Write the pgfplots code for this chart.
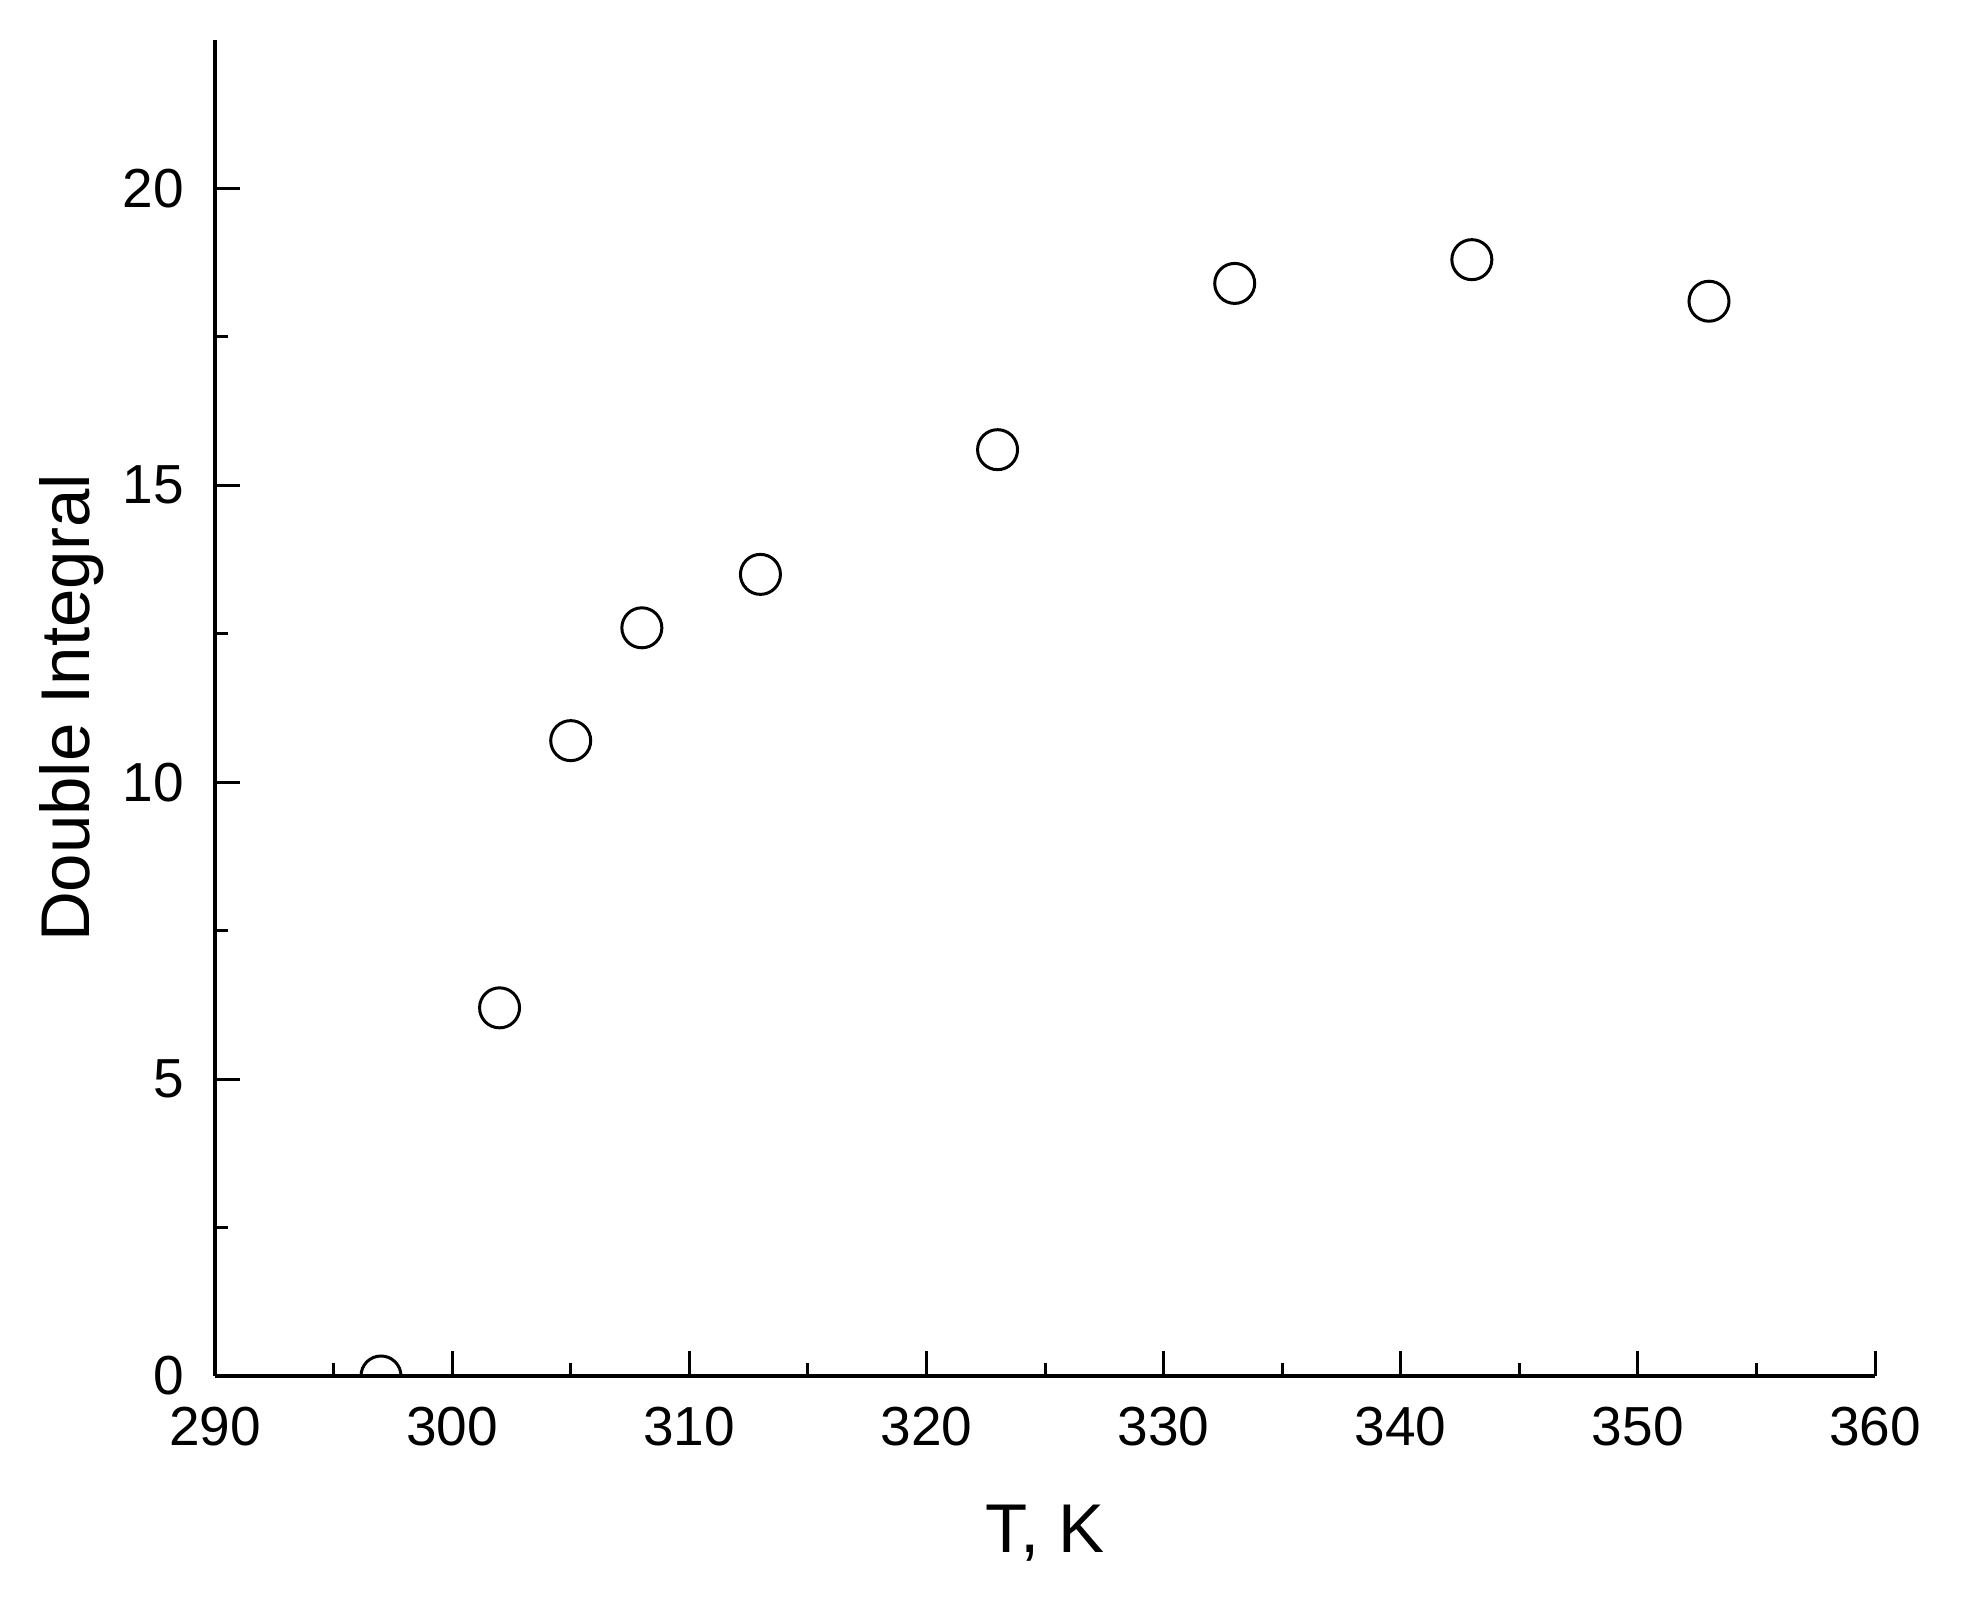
\documentclass[border=0pt]{standalone}
\usepackage{fontspec}
\setmainfont{Liberation Sans}
\usepackage{pgfplots}
\pgfplotsset{compat=1.18}

\begin{document}
\begin{tikzpicture}
    \begin{axis}[
        scale only axis,
        width  = 332pt,
        height = 267.2pt,
        xmin = 290, xmax = 360,
        ymin = 0,   ymax = 22.5,
        xtick = {290,300,...,360},
        ytick = {0,5,...,20},
        minor tick num = 1,
        axis x line* = bottom,
        axis y line* = left,
        axis line style = {-, line width=0.8pt},
        tick align = inside,
        major tick length = 5pt,
        minor tick length = 2.6pt,
        every tick/.style = {black, line width=0.6pt},
        /pgf/number format/assume math mode = true,
        /pgf/number format/1000 sep = {},
        tick label style = {font=\fontsize{11}{13}\selectfont},
        xticklabel style = {yshift=-2.7pt},
        yticklabel style = {xshift=-2.7pt},
        xlabel = {T, K},
        ylabel = {Double Integral},
        every axis x label/.style = {at={(axis description cs:0.5,-0.1175)}, anchor=center,
                                     font=\fontsize{13.8}{16}\selectfont},
        every axis y label/.style = {at={(axis description cs:-0.0861,0.5)}, anchor=center, rotate=90,
                                     font=\fontsize{13.8}{16}\selectfont},
        clip marker paths = true,
        axis on top,
    ]
        \addplot[only marks, mark=*, mark size=4pt,
                 mark options={fill=white, draw=black, line width=0.6pt}]
            coordinates {
            (297, 0)
            (302, 6.2)
            (305, 10.7)
            (308, 12.6)
            (313, 13.5)
            (323, 15.6)
            (333, 18.4)
            (343, 18.8)
            (353, 18.1)
            };
    \end{axis}
    % page margins as in the reference
    \path (current axis.south west) ++(-43pt,-44.4pt) coordinate (bbll);
    \path (current axis.north east) ++(19.6pt,8pt) coordinate (bbur);
    \useasboundingbox (bbll) rectangle (bbur);
\end{tikzpicture}
\end{document}
